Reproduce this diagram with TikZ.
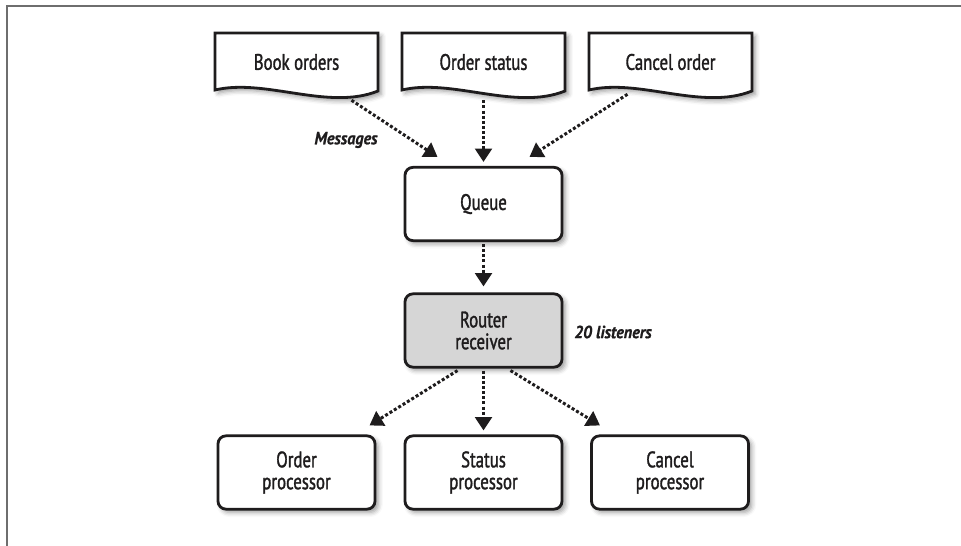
\documentclass[tikz,border=0pt]{standalone}
\usepackage{fontspec}
\setmainfont{PT Sans}[FakeStretch=0.75, FakeBold=1.4]
\newfontfamily\lblfont{PT Sans}[FakeStretch=0.92, FakeBold=0.8]
\usetikzlibrary{arrows.meta,shadows.blur,calc}
\definecolor{routerfill}{RGB}{214,214,214}
\definecolor{framegray}{RGB}{110,110,110}
\definecolor{ink}{RGB}{30,28,29}
\begin{document}
\begin{tikzpicture}[x=0.75pt,y=-0.75pt,
  shad/.style={blur shadow={shadow xshift=2.4pt,shadow yshift=-2.4pt,shadow opacity=40,shadow blur radius=3.5pt}},
  box/.style={draw=ink, line width=2.1pt, rounded corners=6pt, fill=white, text=ink,
    minimum width=117.75pt, minimum height=55pt, inner sep=0pt, align=center,
    font=\fontsize{16.8}{16.4}\selectfont, shad},
  docnode/.style={minimum width=122.25pt, minimum height=43.5pt, inner sep=0pt, text=ink,
    font=\fontsize{16.8}{16.4}\selectfont},
  docline/.style={draw=ink, line width=2.1pt, fill=white, line join=miter, shad},
  flow/.style={draw=ink, line width=2.25pt, dash pattern=on 2.25pt off 1.6pt,
    -{Triangle[width=12.5pt,length=10pt]}},
  lbl/.style={text=ink, font=\lblfont\fontsize{13.2}{15}\selectfont\bfseries\itshape}]
\useasboundingbox (0,0) rectangle (961,546);
\draw[framegray, line width=1.5pt] (961,6) -- (7,6) -- (7,546);

% document shapes
\foreach \nm/\cx/\txt in {book/296.5/Book orders, ostat/483.5/Order status, cancel/670.5/Cancel order}{
  \path[docline] (\cx-81.5,33) -- (\cx+81.5,33) -- (\cx+81.5,91)
    .. controls +(-50,20) and +(50,-12) .. (\cx-81.5,90) -- cycle;
}
\node[docnode] (book) at (296.5,62) {Book orders};
\node[docnode] (ostat) at (483.5,62) {Order status};
\node[docnode] (cancel) at (670.5,62) {Cancel order};

\node[box] (queue) at (483.5,204) {Queue};
\node[box, fill=routerfill] (router) at (483.5,330.5) {Router\\receiver};
\node[box] (oproc) at (296.5,472.5) {Order\\processor};
\node[box] (sproc) at (483.5,472.5) {Status\\processor};
\node[box] (cproc) at (670,472.5) {Cancel\\processor};

\node[lbl] (msg) at (346,140) {Messages};
\node[lbl] (lis) at (613,332) {20 listeners};

\draw[flow] ($(book.south)+(55,9)$) -- ($(queue.north)+(-46,-9)$);
\draw[flow] ($(ostat.south)+(0,9)$) -- ($(queue.north)+(0,-4)$);
\draw[flow] ($(cancel.south)+(-43,3)$) -- ($(queue.north)+(46,-9)$);
\draw[flow] ($(queue.south)+(0,2)$) -- ($(router.north)+(0,-6)$);
\draw[flow] ($(router.south)+(-26,2)$) -- ($(oproc.north)+(73,-9)$);
\draw[flow] ($(router.south)+(0,2)$) -- ($(sproc.north)+(0,-4)$);
\draw[flow] ($(router.south)+(27,2)$) -- ($(cproc.north)+(-70,-9)$);
\end{tikzpicture}
\end{document}
